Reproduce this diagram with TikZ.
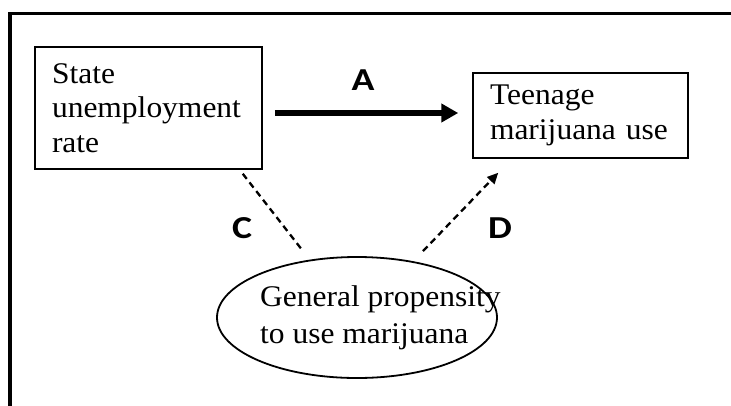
\documentclass[tikz,border=0pt]{standalone}
\usepackage{fontspec}
\setmainfont{Liberation Serif}[FakeStretch=1.05]
\newfontfamily\labelfont{Carlito}[FakeStretch=1.18]
\usetikzlibrary{arrows.meta,shapes.geometric,calc}

\begin{document}
\begin{tikzpicture}[x=1pt,y=-1pt,
  box/.style={draw,line width=1.5pt,align=left,inner xsep=17pt,inner ysep=0pt,
    font=\fontsize{30}{34.5}\selectfont},
  ptext/.style={anchor=base west,inner sep=0pt,font=\fontsize{30}{36}\selectfont},
  lbl/.style={inner sep=0pt,font=\labelfont\bfseries\fontsize{32}{36}\selectfont},
  dashline/.style={line width=2.3pt,dash pattern=on 6.5pt off 4.5pt}
]
\useasboundingbox (0,0) rectangle (731,405);
% outer frame (only top and left edges visible)
\draw[line width=3.4pt,line join=miter] (10,420) -- (10,13.3) -- (750,13.3);

\node[box,text width=193pt,minimum height=122pt] (state) at (148.5,108)
  {State\\unemployment\\rate};
\node[box,text width=181pt,minimum height=85pt] (teen) at (580.5,115.5)
  {Teenage\\marijuana use};

\node[draw,ellipse,line width=1.8pt,minimum width=280pt,minimum height=121pt,inner sep=0pt]
  (prop) at (357,317.5) {};
\node[ptext] (propa) at (260,306) {General propensity};
\node[ptext] (propb) at (260,343) {to use marijuana};

\node[lbl] (la) at (363,80.5) {A};
\node[lbl] (lc) at (242,228) {C};
\node[lbl] (ld) at (500,228) {D};

\draw[line width=6pt,-{Triangle[length=17pt,width=18pt]},shorten <=12pt,shorten >=14pt]
  ($(state.east)+(0,5)$) -- ($(state.east -| teen.west)+(0,5)$);

\coordinate (c1) at ($(state.south east)+(-20,4)$);
\coordinate (c2) at ($(prop.north)+(-54,-5)$);
\coordinate (d1) at ($(prop.north)+(66,-5)$);
\coordinate (d2) at ($(teen.south west)+(26,14)$);

\draw[dashline] (c1) -- (c2);
\draw[dashline,-{Triangle[length=11pt,width=10pt]}] (d1) -- (d2);
\end{tikzpicture}
\end{document}
